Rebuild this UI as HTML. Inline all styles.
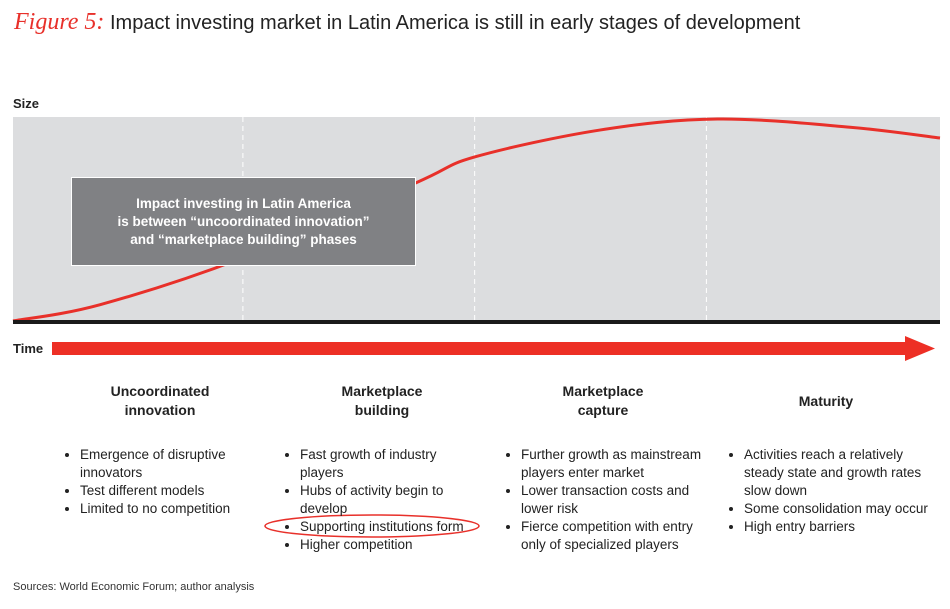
<!DOCTYPE html>
<html><head><meta charset="utf-8"><style>
body{margin:0;width:950px;height:609px;background:#fff;font-family:"Liberation Sans",sans-serif;position:relative;overflow:hidden}
.a{position:absolute}
.h{font-size:14px;font-weight:bold;color:#222;text-align:center;line-height:19px}
ul{margin:0;padding:0 0 0 18px;font-size:13.5px;color:#222;line-height:18px}
li{margin:0}
</style></head><body>
<div class="a" style="left:14px;top:9px;font-size:20px;color:#222;white-space:nowrap"><span style="font-family:'Liberation Serif',serif;font-style:italic;color:#e8302a;font-size:24px">Figure 5:</span> Impact investing market in Latin America is still in early stages of development</div>
<div class="a" style="left:13px;top:96px;font-size:13px;font-weight:bold;color:#222">Size</div>
<div class="a" style="left:13px;top:341px;font-size:13px;font-weight:bold;color:#222">Time</div>
<svg class="a" style="left:0;top:0" width="950" height="609">
<rect x="13" y="117" width="927" height="204" fill="#dcdddf"/>
<g id="dividers"></g>
<path id="curve" fill="none" stroke="#e8302a" stroke-width="3"/>
<rect x="13" y="320" width="927" height="4" fill="#1a1a1a"/>
<rect x="52" y="342" width="858" height="13" fill="#ed2f25"/>
<polygon points="905,336 935,348.5 905,361" fill="#ed2f25"/>
<ellipse cx="372" cy="526" rx="107" ry="11" fill="none" stroke="#e8302a" stroke-width="1.5"/>
</svg>
<div class="a" style="left:71px;top:177px;width:343px;height:87px;background:#808184;border:1px solid #fff;color:#fff;font-weight:bold;font-size:13.5px;line-height:18px;text-align:center;box-sizing:content-box;display:flex;align-items:center;justify-content:center"><div>Impact investing in Latin America<br>is between “uncoordinated innovation”<br>and “marketplace building” phases</div></div>
<div class="a h" style="left:60px;top:382px;width:200px">Uncoordinated<br>innovation</div>
<div class="a h" style="left:282px;top:382px;width:200px">Marketplace<br>building</div>
<div class="a h" style="left:503px;top:382px;width:200px">Marketplace<br>capture</div>
<div class="a h" style="left:726px;top:392px;width:200px">Maturity</div>
<ul class="a" style="left:62px;top:446px;width:180px"><li>Emergence of disruptive innovators</li><li>Test different models</li><li>Limited to no competition</li></ul>
<ul class="a" style="left:282px;top:446px;width:180px"><li>Fast growth of industry players</li><li>Hubs of activity begin to develop</li><li>Supporting institutions form</li><li>Higher competition</li></ul>
<ul class="a" style="left:503px;top:446px;width:200px"><li>Further growth as mainstream players enter market</li><li>Lower transaction costs and lower risk</li><li>Fierce competition with entry only of specialized players</li></ul>
<ul class="a" style="left:726px;top:446px;width:192px"><li>Activities reach a relatively steady state and growth rates slow down</li><li>Some consolidation may occur</li><li>High entry barriers</li></ul>
<div class="a" style="left:13px;top:581px;font-size:11px;color:#333">Sources: World Economic Forum; author analysis</div>
<script>
const timePoints=[0,0.094,0.248,0.434,0.498,0.633,0.76,0.903,1];
const sizeValues=[0,8,31,67.6,80.4,93.6,99,95,89.7];
const phaseBounds=[0.248,0.498,0.748];
const x0=13,x1=940,yBase=321,yTop=117;
const xs=t=>x0+t*(x1-x0);
const ys=v=>yBase-v/100*(yBase-yTop);
const NS="http://www.w3.org/2000/svg";
const g=document.getElementById('dividers');
phaseBounds.forEach(b=>{const l=document.createElementNS(NS,'line');
l.setAttribute('x1',xs(b));l.setAttribute('x2',xs(b));l.setAttribute('y1',yTop);l.setAttribute('y2',yBase);
l.setAttribute('stroke','#fff');l.setAttribute('stroke-dasharray','5,4');


g.appendChild(l);});
const p=timePoints.map((t,i)=>[xs(t),ys(sizeValues[i])]);
let d='M'+p[0][0]+','+p[0][1];
for(let i=0;i<p.length-1;i++){const a=p[i-1]||p[i],b=p[i],c=p[i+1],e=p[i+2]||c;
d+=' C'+(b[0]+(c[0]-a[0])/6)+','+(b[1]+(c[1]-a[1])/6)+' '+(c[0]-(e[0]-b[0])/6)+','+(c[1]-(e[1]-b[1])/6)+' '+c[0]+','+c[1];}
const cv=document.getElementById('curve');cv.setAttribute('d',d);


</script>
</body></html>
